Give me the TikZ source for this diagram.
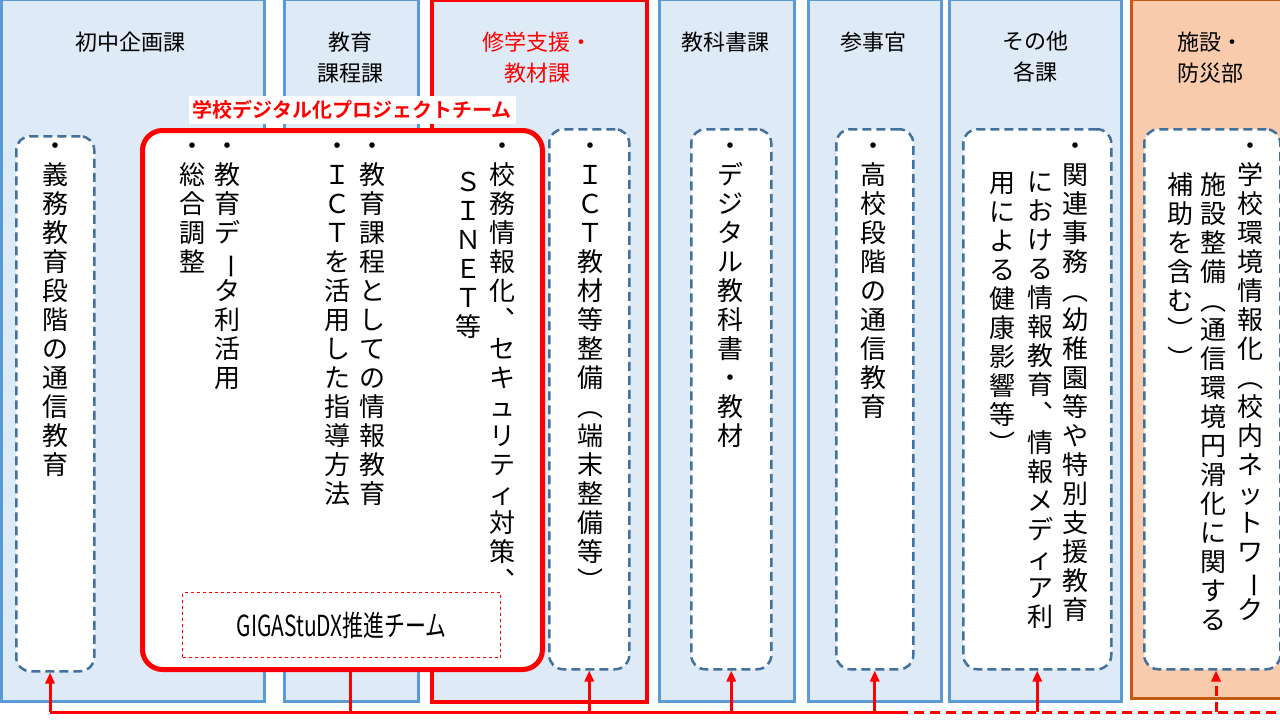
\documentclass[tikz,border=0pt]{standalone}
\usepackage{fontspec}
\usepackage{graphicx}
\setmainfont{Noto Sans CJK JP}
\newfontfamily\boldjp{Noto Sans CJK JP Bold}
\usetikzlibrary{arrows.meta}

\definecolor{deptfill}{HTML}{DEEBF7}
\definecolor{deptblue}{HTML}{5B9BD5}
\definecolor{dashblue}{HTML}{41719C}
\definecolor{bosaifill}{HTML}{F8CBAD}
\definecolor{bosaiedge}{HTML}{C55A11}

% one character per row
\newcommand\tatefont{\fontsize{26pt}{29pt}\selectfont}
\newcommand\tate[1]{\tatei#1\relax}
\def\tatei#1{\ifx#1\relax\else#1\\\expandafter\tatei\fi}
\def\chou{\rotatebox[origin=c]{-90}{ー}}

\tikzset{
	dept/.style={draw=deptblue, line width=2.5pt, fill=deptfill, anchor=north west, inner sep=0pt},
	duty/.style={draw=dashblue, line width=2.5pt, dash pattern=on 9pt off 5pt, fill=white,
		rounded corners=14pt, anchor=north west, inner sep=0pt},
	head/.style={align=center, font=\fontsize{22pt}{31pt}\selectfont, anchor=north},
	line/.style={anchor=north, inner sep=0pt, align=center, font=\tatefont},
	feed/.style={red, line width=3pt},
	up/.style={feed, -{Triangle[width=9pt,length=11pt]}},
}

\begin{document}
\begin{tikzpicture}[x=1pt,y=-1pt]
\useasboundingbox (0,0) rectangle (1280,720);

% Departments
\node[dept, minimum width=263pt, minimum height=702pt] (c1) at (0,-2) {};
\node[dept, minimum width=134pt, minimum height=702pt] (c2) at (283,-2) {};
\node[dept, draw=red, line width=4pt, minimum width=215pt, minimum height=702pt] (c3) at (430,-2) {};
\node[dept, minimum width=135pt, minimum height=702pt] (c4) at (658,-2) {};
\node[dept, minimum width=133pt, minimum height=702pt] (c5) at (807,-2) {};
\node[dept, minimum width=172pt, minimum height=702pt] (c6) at (948,-2) {};
\node[dept, draw=bosaiedge, fill=bosaifill, line width=3pt, minimum width=155pt, minimum height=699pt] (c7) at (1130,-2) {};

\node[head] at (130,28) {初中企画課};
\node[head] at (350,28) {教育\\課程課};
\node[head, text=red] at (537,28) {修学支援・\\教材課};
\node[head] at (725,28) {教科書課};
\node[head] at (873,28) {参事官};
\node[head] at (1035,28) {その他\\各課};
\node[head] at (1210,28) {施設・\\防災部};

% Duty boxes
\node[duty, minimum width=78pt, minimum height=535pt] (b1) at (15,135) {};
\node[duty, minimum width=80pt, minimum height=540pt] (b3) at (548,128) {};
\node[duty, minimum width=80pt, minimum height=540pt] (b4) at (690,128) {};
\node[duty, minimum width=77pt, minimum height=540pt] (b5) at (835,128) {};
\node[duty, minimum width=148pt, minimum height=540pt] (b6) at (962,128) {};
\node[duty, minimum width=136pt, minimum height=540pt] (b7) at (1143,128) {};

% Project team
\node[draw=red, line width=5pt, fill=white, rounded corners=20pt, anchor=north west,
	minimum width=400pt, minimum height=539pt, inner sep=0pt] (pt) at (140,128) {};
\node[fill=white, text=red, font=\boldjp\fontsize{20pt}{22pt}\selectfont, inner sep=4pt] (ptname) at (352,110) {学校デジタル化プロジェクトチーム};
\node[draw=red, dashed, line width=1.2pt, minimum width=318pt, minimum height=65pt, anchor=north west,
	font=\fontsize{29pt}{31pt}\selectfont] (giga) at (182,592) {\scalebox{0.72}[1]{GIGAStuDX推進チーム}};

% Texts
\begin{scope}[every node/.style={line}]
	\node at (55,143) {\tate{・義務教育段階の通信教育}};
	\node at (192,143) {\tate{・総合調整}};
	\node at (227,143) {\tate{・教育デ\chou タ利活用}};
	\node at (337,143) {\tate{・ＩＣＴを活用した指導方法}};
	\node at (372,143) {\tate{・教育課程としての情報教育}};
	\node at (502,143) {\tate{・校務情報化︑セキュリティ対策︑}};
	\node at (468,172) {\tate{ＳＩＮＥＴ等}};
	\node at (590,143) {\tate{・ＩＣＴ教材等整備︵端末整備等︶}};
	\node at (730,143) {\tate{・デジタル教科書・教材}};
	\node at (873,143) {\tate{・高校段階の通信教育}};
	\node at (1075,143) {\tate{・関連事務︵幼稚園等や特別支援教育}};
	\node at (1040,172) {\tate{における情報教育︑情報メディア利}};
	\node at (1002,172) {\tate{用による健康影響等︶}};
	\node at (1250,143) {\tate{・学校環境情報化︵校内ネットワ\chou ク}};
	\node at (1213,172) {\tate{施設整備︵通信環境円滑化に関する}};
	\node at (1180,172) {\tate{補助を含む︶︶}};
\end{scope}

% Feed line
\coordinate (w) at (50,712);
\coordinate (m) at (898,712);
\coordinate (e) at (1280,712);
\draw[feed] (w) -- (m);
\draw[feed, dash pattern=on 10pt off 6pt] (m) -- (e);
\draw[up] (w) -- (b1.south -| w);
\draw[feed] (350,712) -- (pt.south -| 350,0);
\foreach \b in {b3,b4,b5,b6}
	\draw[up] (\b.south |- w) -- (\b.south);
\draw[up, dash pattern=on 10pt off 6pt] (1216,712) -- (b7.south -| 1216,0);

\end{tikzpicture}
\end{document}
